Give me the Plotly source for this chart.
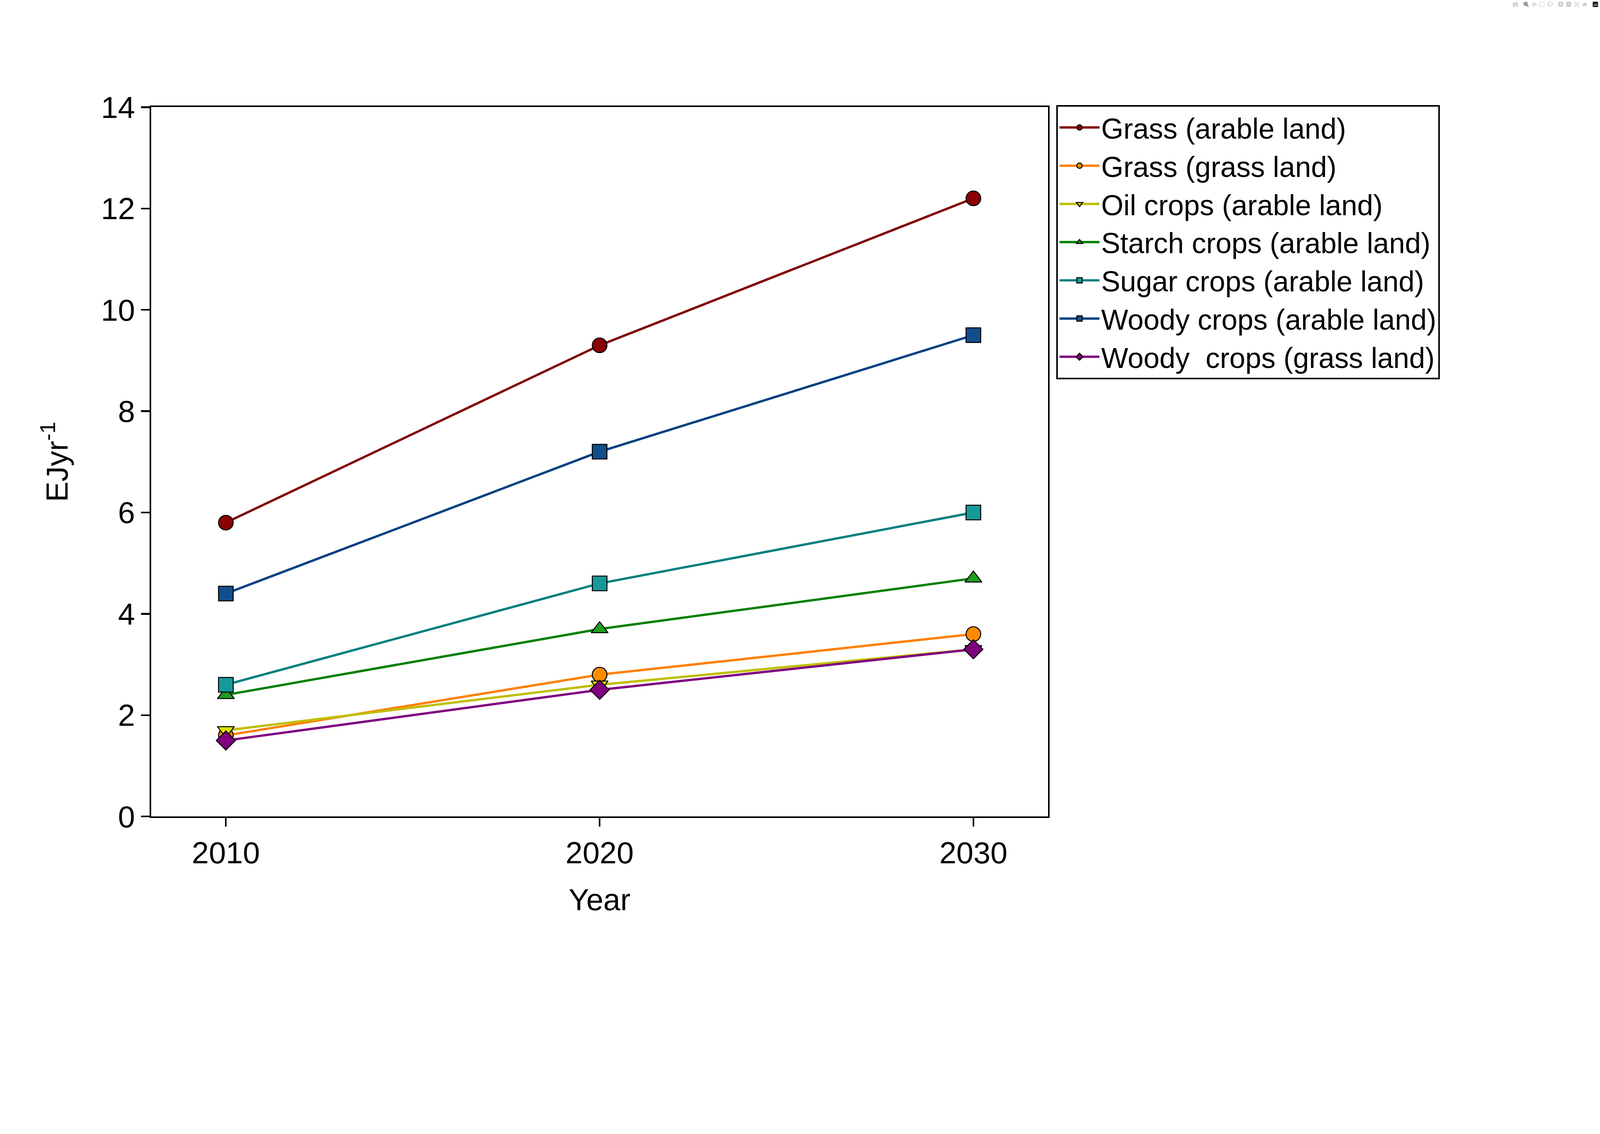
import plotly.graph_objects as go

years = [2010, 2020, 2030]
names = ["Grass (arable land)", "Grass (grass land)", "Oil crops (arable land)",
         "Starch crops (arable land)", "Sugar crops (arable land)",
         "Woody crops (arable land)", "Woody  crops (grass land)"]
grass_arable = [5.8, 9.3, 12.2]
grass_grass = [1.6, 2.8, 3.6]
oil_arable = [1.7, 2.6, 3.3]
starch_arable = [2.4, 3.7, 4.7]
sugar_arable = [2.6, 4.6, 6.0]
woody_arable = [4.4, 7.2, 9.5]
woody_grass = [1.5, 2.5, 3.3]
series = [grass_arable, grass_grass, oil_arable, starch_arable, sugar_arable, woody_arable, woody_grass]
line_colors = ["#800000", "#FF8000", "#BFBF00", "#008000", "#008080", "#004080", "#800080"]
marker_colors = ["#8B0000", "#FF8C00", "#E0E000", "#1E9E1E", "#159A9A", "#104E8B", "#800080"]
symbols = ["circle", "circle", "triangle-down", "triangle-up", "square", "square", "diamond"]

fig = go.Figure()
for n, s, lc, mc, sym in zip(names, series, line_colors, marker_colors, symbols):
    fig.add_trace(go.Scatter(x=years, y=s, name=n, mode="lines+markers",
                             line=dict(color=lc, width=7),
                             marker=dict(symbol=sym, size=44, color=mc,
                                         line=dict(color="black", width=3))))

font = "Liberation Sans, Arial"
axis_common = dict(showline=True, linecolor="black", linewidth=5, mirror=True,
                   ticks="outside", ticklen=25, tickwidth=5, tickcolor="black",
                   showgrid=False, zeroline=False,
                   tickfont=dict(family=font, size=92, color="black"))
fig.update_xaxes(range=[2008, 2032], tickvals=years, title=dict(text="Year", standoff=60,
                 font=dict(family=font, size=92, color="black")), **axis_common)
fig.update_yaxes(range=[0, 14], dtick=2, title=dict(text="EJyr<sup>-1</sup>", standoff=70,
                 font=dict(family=font, size=92, color="black")), **axis_common)
fig.update_layout(width=4807, height=2903, plot_bgcolor="white", paper_bgcolor="white",
                  margin=dict(l=454, r=1658, t=322, b=450),
                  legend=dict(x=1.009, y=1.003, xanchor="left", yanchor="top",
                              bordercolor="black", borderwidth=5, bgcolor="white",
                              font=dict(family=font, size=86, color="black"),
                              itemwidth=120, tracegroupgap=0))

post = """
document.body.style.margin='0';
document.body.style.overflow='hidden';
var el=document.getElementById('{plot_id}');
var s=Math.min(window.innerWidth/4807, window.innerHeight/2903);
el.style.transformOrigin='0 0';
el.style.transform='scale('+s+')';
"""
fig.write_html("out.html", post_script=post)
